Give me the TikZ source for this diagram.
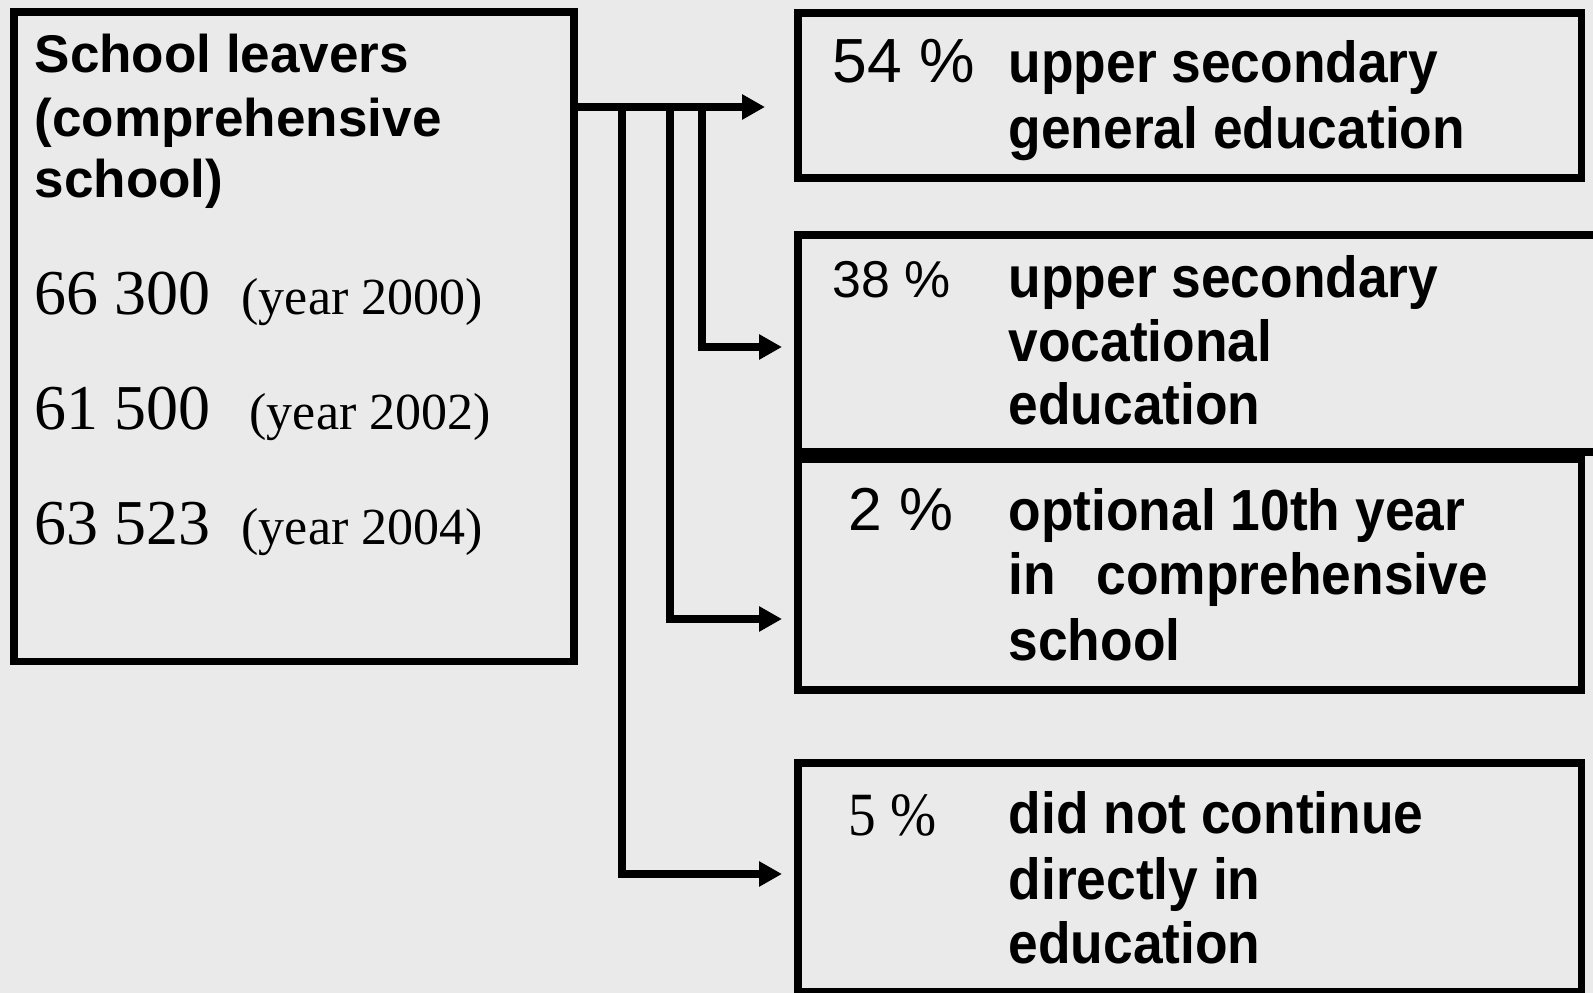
\documentclass[tikz,border=0pt]{standalone}
\usepackage{fontspec}
\setmainfont{Liberation Serif}
\setsansfont{Liberation Sans}
\newfontfamily\narrowsf[FakeStretch=0.92]{Liberation Sans}
\newfontfamily\narrowrm[FakeStretch=0.9]{Liberation Serif}
\usetikzlibrary{arrows.meta}
\definecolor{slidebg}{RGB}{234,234,234}

\begin{document}
\begin{tikzpicture}[x=0.02cm, y=-0.02cm, line width=0.145cm, >={Triangle[length=0.46cm,width=0.48cm]},
	box/.style={draw, rectangle, inner sep=0pt, outer sep=0pt, anchor=north west},
	txt/.style={inner sep=0pt, anchor=base west},
	title/.style={txt, font=\sffamily\bfseries\fontsize{30.2}{36}\selectfont},
	count/.style={txt, font=\rmfamily\fontsize{36.4}{44}\selectfont},
	year/.style={txt, font=\rmfamily\fontsize{29.6}{36}\selectfont},
	label/.style={txt, font=\narrowsf\bfseries\fontsize{33}{40}\selectfont},
	pct/.style={txt, font=\sffamily\fontsize{35.5}{40}\selectfont},
	flow/.style={->, line join=miter}]
	\path[use as bounding box, fill=slidebg] (0,0) rectangle (1593,993);
	\node[box, minimum width=11.2cm, minimum height=13cm] (leavers) at (14,12) {};
	\node[box, minimum width=15.68cm, minimum height=3.3cm] (general) at (798,13) {};
	\node[box, draw=none, minimum width=15.9cm, minimum height=4.34cm] (vocational) at (798,235) {};
	\draw (vocational.north east) -- (vocational.north west) -- (vocational.south west) -- (vocational.south east);
	\node[box, minimum width=15.68cm, minimum height=4.62cm] (optional) at (798,459) {};
	\node[box, minimum width=15.68cm, minimum height=4.58cm] (dropout) at (798,763) {};
	\node[title] (t1) at (31,73) {School leavers};
	\node[title] (t2) at (31,137) {(comprehensive};
	\node[title] (t3) at (31,198) {school)};
	\node[count] (n2000) at (31,315) {66 300};
	\node[year] (y2000) at (238,315) {(year 2000)};
	\node[count] (n2002) at (31,429) {61 500};
	\node[year] (y2002) at (246,429) {(year 2002)};
	\node[count] (n2004) at (31,544) {63 523};
	\node[year] (y2004) at (238,544) {(year 2004)};
	\node[pct] (p1) at (829,83) {54 \%};
	\node[label] (g1) at (1005,83) {upper secondary};
	\node[label] (g2) at (1005,149) {general education};
	\node[pct, font=\sffamily\fontsize{29.5}{34}\selectfont] (p2) at (829,297) {38 \%};
	\node[label] (v1) at (1005,297) {upper secondary};
	\node[label] (v2) at (1005,361) {vocational};
	\node[label] (v3) at (1005,424) {education};
	\node[pct, font=\sffamily\fontsize{34.5}{40}\selectfont] (p3) at (845,530) {2 \%};
	\node[label] (o1) at (1005,530) {optional 10th year};
	\node[label] (o2) at (1005,594) {in\hspace{0.81cm}comprehensive};
	\node[label] (o3) at (1005,660) {school};
	\node[pct, font=\narrowrm\fontsize{35}{40}\selectfont] (p4) at (845,835) {5 \%};
	\node[label] (d1) at (1005,833) {did not continue};
	\node[label] (d2) at (1005,899) {directly in};
	\node[label] (d3) at (1005,963) {education};
	\coordinate (fork1) at (622,107);
	\coordinate (fork2) at (670,107);
	\coordinate (fork3) at (702,107);
	\draw[flow, shorten >=0.66cm] (leavers.east |- fork1) -- (general.west |- fork1);
	\draw[flow, shorten >=0.32cm] (fork3) |- (vocational.west |- 0,347);
	\draw[flow, shorten >=0.32cm] (fork2) |- (optional.west |- 0,619);
	\draw[flow, shorten >=0.32cm] (fork1) |- (dropout.west |- 0,874);
\end{tikzpicture}
\end{document}
